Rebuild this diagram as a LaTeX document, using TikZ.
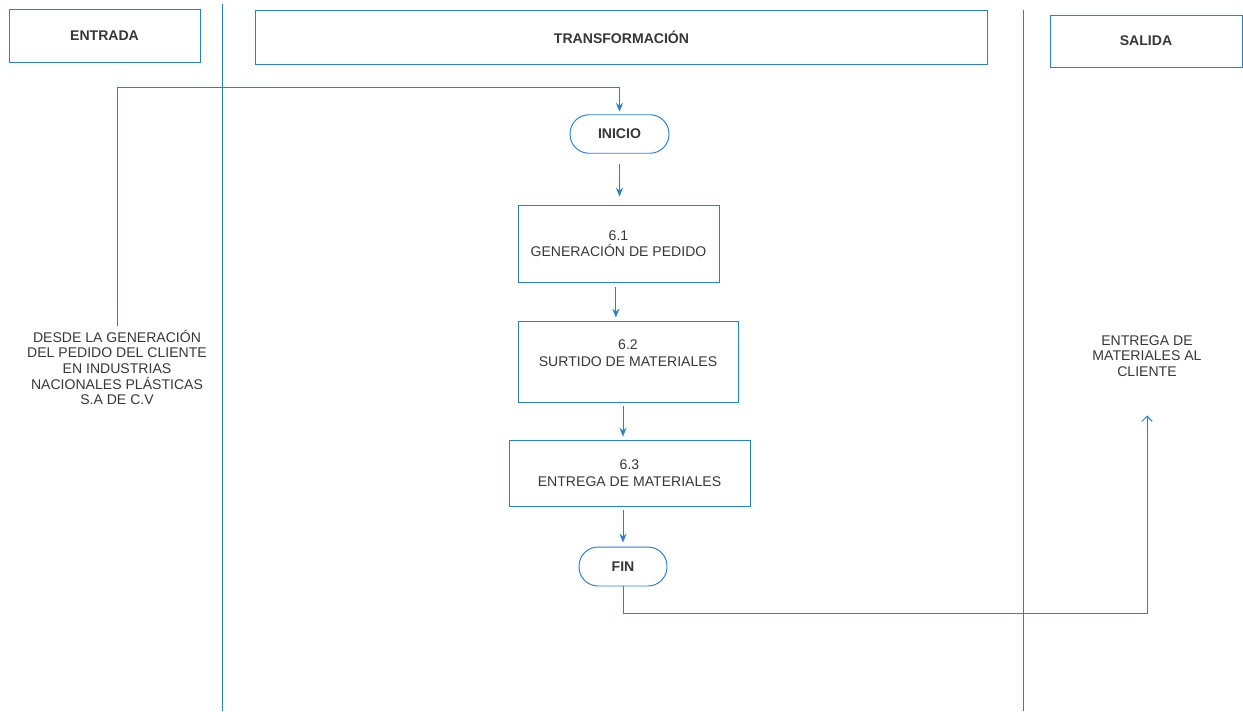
\documentclass[tikz,border=0pt]{standalone}
\usepackage{fontspec}
\setmainfont{Liberation Sans}
\usetikzlibrary{arrows.meta}

\definecolor{lineblue}{RGB}{38,128,212}
\definecolor{txtgray}{RGB}{55,55,55}

\tikzset{
  lane/.style={draw=lineblue,line width=0.55pt,minimum height=1.06cm,text=txtgray,font=\bfseries\fontsize{8}{9.5}\selectfont},
  proc/.style={draw=lineblue,line width=0.55pt,align=center,text=txtgray,font=\fontsize{8}{9.5}\selectfont},
  term/.style={draw=lineblue,line width=0.55pt,rounded corners=0.38cm,minimum height=0.77cm,text=txtgray,font=\bfseries\fontsize{8}{9.5}\selectfont},
  note/.style={align=center,text=txtgray,font=\fontsize{8}{8.9}\selectfont,inner sep=2pt},
  flow/.style={draw=lineblue,line width=0.55pt,-{Stealth[length=5pt,width=4pt]}}
}

\begin{document}
\begin{tikzpicture}[x=0.02cm,y=-0.02cm]

\useasboundingbox (0,0) rectangle (1243,711);

%drawing the lane dividers
\draw[lineblue,line width=0.55pt] (222,4) -- (222,711);
\draw[lineblue,line width=0.55pt] (1023,10) -- (1023,711);

%headers of the three lanes
\node[lane,minimum width=3.82cm] (entrada) at (104.5,35.5) {ENTRADA};
\node[lane,minimum width=14.66cm,minimum height=1.08cm] (transf) at (621.5,37) {TRANSFORMACIÓN};
\node[lane,minimum width=3.84cm,minimum height=1.04cm] (salida) at (1146,41) {SALIDA};

%input and output texts
\node[note] (desde) at (117,367.5) {DESDE LA GENERACIÓN\\DEL PEDIDO DEL CLIENTE\\EN INDUSTRIAS\\NACIONALES PLÁSTICAS\\S.A DE C.V};
\node[note] (cliente) at (1147,356) {ENTREGA DE\\MATERIALES AL\\CLIENTE};

%steps of the process
\node[term,minimum width=1.98cm] (inicio) at (619.5,134) {INICIO};
\node[proc,minimum width=4.02cm,minimum height=1.54cm] (pedido) at (618.5,243.5) {6.1\\GENERACIÓN DE PEDIDO};
\node[proc,minimum width=4.4cm,minimum height=1.62cm] (surtido) at (628,361.5) {6.2\\SURTIDO DE MATERIALES\\ \mbox{}};
\node[proc,minimum width=4.82cm,minimum height=1.32cm] (entrega) at (629.5,473) {6.3\\ENTREGA DE MATERIALES};
\node[term,minimum width=1.76cm,minimum height=0.78cm] (fin) at (623,566.5) {FIN};

%connectors
\draw[flow] (desde.north) -- (desde.north |- 0,87) -| ([yshift=1.5pt]inicio.north);
\draw[flow,shorten <=0.2cm,shorten >=0.16cm] (inicio.south) -- (inicio.south |- pedido.north);
\draw[flow,shorten <=0.1cm,shorten >=0.06cm] ([xshift=-1.5pt]pedido.south) -- ([xshift=-1.5pt]pedido.south |- surtido.north);
\draw[flow,shorten <=0.08cm,shorten >=0.06cm] (surtido.south -| fin.north) -- (fin.north |- entrega.north);
\draw[flow,shorten <=0.08cm,shorten >=0.08cm] (fin.north |- entrega.south) -- (fin.north);
\draw[lineblue,line width=0.55pt,-{Straight Barb[length=3pt,width=6pt]},shorten >=0.7cm] (fin.south) -- (fin.south |- 0,613) -| (cliente.south);

\end{tikzpicture}
\end{document}
